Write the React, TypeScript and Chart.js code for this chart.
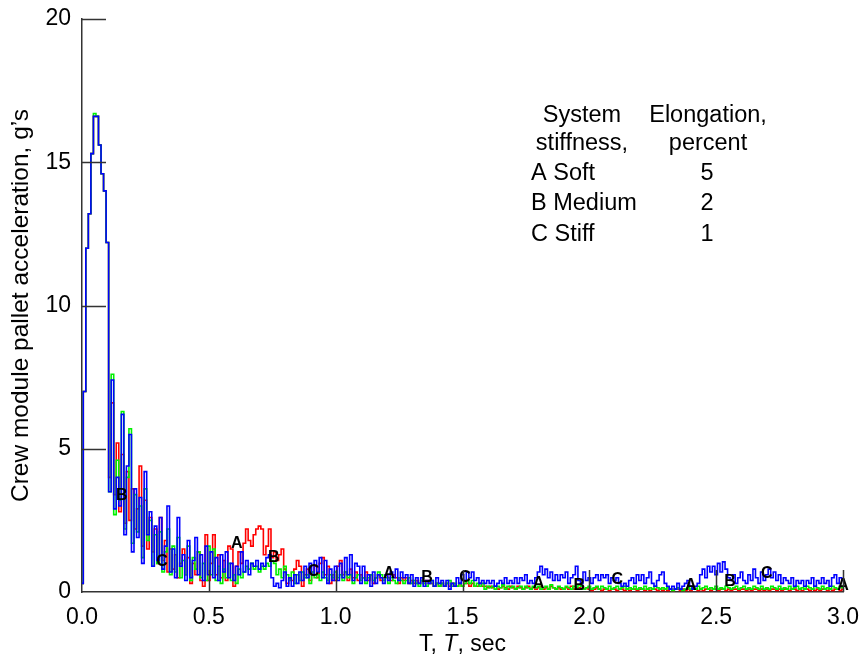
import React, { useEffect, useRef } from "react";
import { Chart, registerables } from "chart.js";

Chart.register(...registerables);

// sample period of the recorded traces (s)
const SAMPLE_STEP = 0.01;

// C — Stiff (blue), one value per 0.01 s from 0.00 to 3.00 s
const ACC_C = [
  0.3, 7.0, 12.0, 13.2, 15.3, 16.6, 16.6, 15.6, 14.6, 14.0,
  12.2, 3.5, 7.4, 2.9, 4.0, 3.0, 6.2, 2.0, 4.4, 5.5,
  1.4, 3.6, 1.9, 3.3, 1.0, 4.2, 2.0, 2.8, 0.9, 2.3,
  1.1, 2.6, 0.8, 1.6, 3.0, 0.7, 1.5, 0.5, 2.6, 0.9,
  1.3, 0.4, 1.8, 0.5, 1.1, 1.9, 0.6, 1.3, 0.4, 1.6,
  0.6, 1.4, 0.5, 1.2, 0.4, 1.3, 0.7, 1.4, 0.5, 1.0,
  0.4, 0.9, 0.6, 1.4, 0.7, 1.1, 0.6, 1.0, 0.9, 1.1,
  0.8, 1.0, 0.9, 1.2, 1.3, 0.5, 0.2, 0.3, 0.15, 0.4,
  0.7, 0.2, 0.5, 0.2, 0.6, 0.3, 0.7, 0.4, 0.9, 0.5,
  1.0, 0.6, 1.1, 0.7, 1.2, 0.5, 1.1, 0.3, 0.8, 0.4,
  0.9, 0.4, 1.0, 0.5, 1.2, 0.6, 1.3, 0.4, 1.0, 0.9,
  0.3, 0.9, 0.4, 0.6, 0.2, 0.7, 0.3, 0.6, 0.5, 0.3,
  0.6, 0.4, 0.7, 0.5, 0.8, 0.4, 0.7, 0.5, 0.6, 0.3,
  0.6, 0.2, 0.5, 0.3, 0.5, 0.2, 0.4, 0.3, 0.4, 0.2,
  0.5, 0.3, 0.4, 0.2, 0.4, 0.1, 0.3, 0.2, 0.5, 0.3,
  0.6, 0.4, 0.7, 0.5, 0.7, 0.4, 0.5, 0.3, 0.4, 0.3,
  0.4, 0.3, 0.4, 0.2, 0.3, 0.4, 0.3, 0.5, 0.3, 0.4,
  0.3, 0.5, 0.3, 0.5, 0.4, 0.6, 0.3, 0.4, 0.3, 0.5,
  0.7, 0.9, 0.6, 0.8, 0.5, 0.7, 0.4, 0.6, 0.4, 0.6,
  0.5, 0.7, 0.3, 0.5, 0.6, 0.9, 0.4, 0.3, 0.7, 0.4,
  0.5, 0.3, 0.5, 0.6, 0.4, 0.6, 0.5, 0.6, 0.3, 0.5,
  0.4, 0.5, 0.3, 0.2, 0.3, 0.2, 0.4, 0.5, 0.3, 0.6,
  0.4, 0.6, 0.3, 0.5, 0.7, 0.3, 0.2, 0.4, 0.6, 0.7,
  0.3, 0.2, 0.1, 0.2, 0.1, 0.3, 0.1, 0.2, 0.3, 0.4,
  0.2, 0.1, 0.2, 0.3, 0.6, 0.8, 0.5, 0.9, 0.7, 0.9,
  0.6, 1.0, 0.7, 1.05, 0.8, 0.5, 0.4, 0.6, 0.3, 0.5,
  0.7, 0.4, 0.3, 0.6, 0.4, 0.8, 0.5, 0.3, 0.7, 0.4,
  0.6, 0.8, 0.5, 0.7, 0.4, 0.6, 0.3, 0.5, 0.4, 0.3,
  0.5, 0.2, 0.4, 0.3, 0.4, 0.2, 0.4, 0.3, 0.5, 0.2,
  0.4, 0.3, 0.5, 0.3, 0.4, 0.2, 0.5, 0.6, 0.3, 0.5,
  0.4,
];

// B — Medium (green)
const ACC_B = [
  0.3, 7.0, 12.0, 13.2, 15.3, 16.7, 16.6, 15.6, 14.6, 14.0,
  12.2, 3.5, 7.6, 2.7, 4.6, 3.2, 6.3, 2.2, 4.0, 5.7,
  1.7, 3.4, 2.1, 3.0, 1.2, 3.6, 1.8, 2.5, 0.9, 2.0,
  1.0, 2.1, 0.7, 1.4, 2.2, 0.6, 1.6, 0.7, 1.9, 0.5,
  1.1, 0.6, 1.6, 0.4, 1.2, 0.8, 1.4, 0.5, 1.0, 0.4,
  1.6, 0.6, 1.5, 0.4, 0.9, 0.3, 0.8, 0.5, 1.0, 0.4,
  0.6, 0.3, 0.8, 0.5, 0.7, 0.9, 0.8, 1.0, 0.8, 0.9,
  0.7, 0.9, 0.8, 1.0, 0.9, 1.1, 1.0, 0.6, 0.8, 0.5,
  0.9, 0.6, 0.4, 0.7, 0.3, 0.6, 0.4, 0.7, 0.5, 0.6,
  0.3, 0.7, 0.5, 0.6, 0.4, 0.7, 0.5, 0.4, 0.6, 0.5,
  0.7, 0.5, 0.6, 0.4, 0.7, 0.5, 0.6, 0.3, 0.5, 0.6,
  0.4, 0.5, 0.3, 0.5, 0.6, 0.4, 0.5, 0.7, 0.6, 0.4,
  0.5, 0.3, 0.5, 0.4, 0.3, 0.5, 0.4, 0.3, 0.4, 0.5,
  0.3, 0.4, 0.3, 0.2, 0.4, 0.3, 0.2, 0.3, 0.4, 0.2,
  0.3, 0.2, 0.3, 0.2, 0.3, 0.4, 0.2, 0.3, 0.2, 0.3,
  0.2, 0.3, 0.4, 0.3, 0.4, 0.2, 0.3, 0.2, 0.3, 0.1,
  0.2, 0.15, 0.2, 0.1, 0.2, 0.15, 0.25, 0.1, 0.2, 0.15,
  0.2, 0.1, 0.15, 0.2, 0.1, 0.2, 0.15, 0.1, 0.2, 0.15,
  0.2, 0.1, 0.15, 0.2, 0.1, 0.25, 0.15, 0.1, 0.2, 0.15,
  0.1, 0.2, 0.15, 0.1, 0.2, 0.15, 0.25, 0.2, 0.1, 0.15,
  0.2, 0.1, 0.15, 0.2, 0.1, 0.2, 0.15, 0.1, 0.2, 0.1,
  0.15, 0.2, 0.1, 0.15, 0.2, 0.1, 0.15, 0.1, 0.2, 0.1,
  0.15, 0.1, 0.2, 0.1, 0.15, 0.1, 0.2, 0.15, 0.1, 0.15,
  0.1, 0.15, 0.1, 0.05, 0.1, 0.15, 0.1, 0.05, 0.1, 0.15,
  0.1, 0.15, 0.1, 0.2, 0.1, 0.15, 0.2, 0.1, 0.15, 0.1,
  0.2, 0.1, 0.15, 0.1, 0.2, 0.15, 0.1, 0.15, 0.2, 0.1,
  0.15, 0.2, 0.1, 0.15, 0.1, 0.2, 0.15, 0.1, 0.2, 0.1,
  0.15, 0.1, 0.2, 0.15, 0.1, 0.2, 0.1, 0.15, 0.1, 0.2,
  0.1, 0.15, 0.2, 0.1, 0.15, 0.1, 0.2, 0.15, 0.1, 0.2,
  0.15, 0.1, 0.2, 0.1, 0.15, 0.1, 0.2, 0.15, 0.1, 0.2,
  0.15,
];

// A — Soft (red)
const ACC_A = [
  0.3, 7.0, 12.0, 13.2, 15.3, 16.6, 16.6, 15.6, 14.6, 14.0,
  12.2, 4.0, 6.6, 3.4, 5.2, 2.8, 4.8, 2.4, 4.2, 2.5,
  3.6, 2.2, 2.9, 4.4, 1.6, 3.2, 1.5, 2.6, 1.4, 2.2,
  1.0, 2.6, 1.1, 1.8, 0.7, 1.5, 0.8, 1.3, 0.5, 1.0,
  1.5, 0.6, 1.2, 0.3, 1.0, 0.6, 1.4, 0.4, 0.2, 2.0,
  0.4, 1.0, 2.0, 0.6, 1.3, 0.5, 1.1, 0.4, 1.6, 1.5,
  0.2, 0.9, 1.4, 1.0, 1.7, 2.2, 1.8, 1.6, 2.0, 2.2,
  2.3, 2.2, 1.3, 1.6, 2.2, 1.2, 1.4, 1.1, 1.3, 1.5,
  0.8, 0.3, 0.5, 0.4, 0.8, 1.1, 0.9, 0.2, 0.6, 0.8,
  0.4, 0.7, 0.9, 0.5, 1.0, 1.2, 0.6, 0.9, 0.3, 0.6,
  0.4, 0.9, 1.1, 0.6, 0.7, 0.4, 0.8, 0.5, 0.7, 0.4,
  0.6, 0.5, 0.7, 0.4, 0.6, 0.3, 0.5, 0.6, 0.4, 0.5,
  0.6, 0.5, 0.4, 0.6, 0.5, 0.3, 0.5, 0.4, 0.5, 0.3,
  0.4, 0.3, 0.4, 0.3, 0.4, 0.3, 0.4, 0.3, 0.3, 0.2,
  0.3, 0.2, 0.3, 0.2, 0.3, 0.2, 0.3, 0.2, 0.2, 0.3,
  0.2, 0.3, 0.3, 0.2, 0.3, 0.2, 0.2, 0.3, 0.2, 0.2,
  0.15, 0.2, 0.15, 0.2, 0.1, 0.15, 0.2, 0.15, 0.1, 0.2,
  0.15, 0.1, 0.2, 0.15, 0.1, 0.15, 0.2, 0.1, 0.15, 0.1,
  0.15, 0.2, 0.1, 0.15, 0.1, 0.2, 0.15, 0.1, 0.15, 0.1,
  0.1, 0.15, 0.1, 0.2, 0.1, 0.1, 0.15, 0.1, 0.1, 0.15,
  0.1, 0.05, 0.1, 0.15, 0.1, 0.05, 0.1, 0.1, 0.05, 0.1,
  0.1, 0.05, 0.1, 0.1, 0.05, 0.1, 0.05, 0.1, 0.1, 0.05,
  0.1, 0.1, 0.05, 0.1, 0.05, 0.1, 0.1, 0.05, 0.1, 0.05,
  0.1, 0.05, 0.1, 0.05, 0.1, 0.1, 0.05, 0.1, 0.05, 0.1,
  0.05, 0.1, 0.1, 0.05, 0.1, 0.05, 0.1, 0.1, 0.05, 0.1,
  0.1, 0.05, 0.1, 0.1, 0.05, 0.1, 0.05, 0.1, 0.1, 0.05,
  0.1, 0.1, 0.05, 0.1, 0.05, 0.1, 0.1, 0.05, 0.1, 0.05,
  0.1, 0.05, 0.1, 0.1, 0.05, 0.1, 0.05, 0.1, 0.1, 0.05,
  0.1, 0.1, 0.05, 0.1, 0.05, 0.1, 0.1, 0.05, 0.1, 0.05,
  0.1, 0.05, 0.1, 0.1, 0.05, 0.1, 0.05, 0.1, 0.1, 0.05,
  0.1,
];

// time stamps of the samples (s)
const TIME = ACC_C.map((_, i) => Number((i * SAMPLE_STEP).toFixed(2)));

// letter markers placed along each trace
const MARK_A_T = [0.61, 1.21, 1.8, 2.4, 3.0];
const MARK_A_V = [1.68, 0.63, 0.28, 0.24, 0.24];
const MARK_B_T = [0.157, 0.756, 1.36, 1.96, 2.555];
const MARK_B_V = [3.35, 1.19, 0.49, 0.24, 0.35];
const MARK_C_T = [0.315, 0.913, 1.51, 2.11, 2.7];
const MARK_C_V = [1.05, 0.7, 0.52, 0.42, 0.63];

const X_TICKS = [0, 0.5, 1.0, 1.5, 2.0, 2.5, 3.0];
const Y_TICKS = [0, 5, 10, 15, 20];

const Y_TITLE = "Crew module pallet acceleration, g\u2019s";
const X_TITLE_PARTS = ["T, ", "T", ", sec"];

const LEGEND_HEAD_LEFT = ["System", "stiffness,"];
const LEGEND_HEAD_RIGHT = ["Elongation,", "percent"];
const LEGEND_NAMES = ["A Soft", "B Medium", "C Stiff"];
const LEGEND_ELONG = ["5", "2", "1"];

const FONT = '"Liberation Sans", Arial, Helvetica, sans-serif';

const overlayPlugin = {
  id: "overlay",
  afterDatasetsDraw(chart: any) {
    const { ctx } = chart;
    const xs = chart.scales.x;
    const ys = chart.scales.y;
    ctx.save();
    ctx.font = `bold 16px ${FONT}`;
    ctx.fillStyle = "#000";
    ctx.textAlign = "center";
    ctx.textBaseline = "middle";
    const groups: [string, number[], number[]][] = [
      ["A", MARK_A_T, MARK_A_V],
      ["B", MARK_B_T, MARK_B_V],
      ["C", MARK_C_T, MARK_C_V],
    ];
    for (const [letter, ts, vs] of groups) {
      ts.forEach((t, i) => {
        ctx.fillText(letter, xs.getPixelForValue(t), ys.getPixelForValue(vs[i]));
      });
    }
    ctx.restore();
  },
  afterDraw(chart: any) {
    const { ctx, chartArea } = chart;
    const xs = chart.scales.x;
    const ys = chart.scales.y;
    ctx.save();
    // inward tick marks
    ctx.strokeStyle = "#333";
    ctx.lineWidth = 1.5;
    ctx.beginPath();
    Y_TICKS.forEach((v) => {
      if (v === 0) return;
      const py = Math.round(ys.getPixelForValue(v)) + 0.5;
      ctx.moveTo(chartArea.left, py);
      ctx.lineTo(chartArea.left + 24, py);
    });
    X_TICKS.forEach((v) => {
      if (v === 0) return;
      const px = Math.round(xs.getPixelForValue(v)) + 0.5;
      ctx.moveTo(px, chartArea.bottom);
      ctx.lineTo(px, chartArea.bottom - 22);
    });
    ctx.stroke();

    // x-axis title with italic T
    ctx.fillStyle = "#000";
    ctx.textBaseline = "alphabetic";
    ctx.textAlign = "left";
    const fonts = [`23px ${FONT}`, `italic 23px ${FONT}`, `23px ${FONT}`];
    let total = 0;
    const widths = X_TITLE_PARTS.map((s, i) => {
      ctx.font = fonts[i];
      const w = ctx.measureText(s).width;
      total += w;
      return w;
    });
    let cx = (chartArea.left + chartArea.right) / 2 - total / 2;
    const baseY = chartArea.bottom + 59;
    X_TITLE_PARTS.forEach((s, i) => {
      ctx.font = fonts[i];
      ctx.fillText(s, cx, baseY);
      cx += widths[i];
    });

    // stiffness / elongation table
    ctx.font = `23.5px ${FONT}`;
    const colL = 582;
    const colR = 708;
    const rowL = 531;
    const headY = [122, 150];
    const rowY = [180, 210, 241];
    ctx.textAlign = "center";
    LEGEND_HEAD_LEFT.forEach((s, i) => ctx.fillText(s, colL, headY[i]));
    LEGEND_HEAD_RIGHT.forEach((s, i) => ctx.fillText(s, colR, headY[i]));
    LEGEND_ELONG.forEach((s, i) => ctx.fillText(s, colR - 1, rowY[i]));
    ctx.textAlign = "left";
    LEGEND_NAMES.forEach((s, i) => ctx.fillText(s, rowL, rowY[i]));
    ctx.restore();
  },
};

export default function App() {
  const canvasRef = useRef<HTMLCanvasElement | null>(null);

  useEffect(() => {
    if (!canvasRef.current) return;
    const mk = (vals: number[]) => vals.map((v, i) => ({ x: TIME[i], y: v }));
    const chart = new Chart(canvasRef.current, {
      type: "line",
      data: {
        datasets: [
          {
            label: "C Stiff",
            data: mk(ACC_C),
            borderColor: "#0000ff",
            borderWidth: 1.6,
            pointRadius: 0,
            stepped: "middle",
            fill: false,
          },
          {
            label: "B Medium",
            data: mk(ACC_B),
            borderColor: "#00f000",
            borderWidth: 1.6,
            pointRadius: 0,
            stepped: "middle",
            fill: false,
          },
          {
            label: "A Soft",
            data: mk(ACC_A),
            borderColor: "#ff0000",
            borderWidth: 1.6,
            pointRadius: 0,
            stepped: "middle",
            fill: false,
          },
        ],
      },
      options: {
        responsive: false,
        animation: false,
        events: [],
        layout: { padding: { top: 19, right: 17, left: 0, bottom: 0 } },
        plugins: { legend: { display: false }, tooltip: { enabled: false } },
        scales: {
          x: {
            type: "linear",
            min: 0,
            max: 3,
            afterFit: (s: any) => {
              s.height = 68;
              s.paddingLeft = 0;
              s.paddingRight = 0;
            },
            afterBuildTicks: (s: any) => {
              s.ticks = X_TICKS.map((v) => ({ value: v }));
            },
            grid: { display: false, drawTicks: false },
            border: { display: true, color: "#333", width: 1.5 },
            ticks: {
              padding: 12,
              color: "#000",
              font: { family: FONT, size: 23 },
              maxRotation: 0,
              callback: (v: any) => Number(v).toFixed(1),
            },
          },
          y: {
            type: "linear",
            min: 0,
            max: 20,
            afterFit: (s: any) => {
              s.width = 82;
              s.paddingTop = 0;
              s.paddingBottom = 0;
            },
            afterBuildTicks: (s: any) => {
              s.ticks = Y_TICKS.map((v) => ({ value: v }));
            },
            grid: { display: false, drawTicks: false },
            border: { display: true, color: "#333", width: 1.5 },
            ticks: {
              padding: 11,
              color: "#000",
              font: { family: FONT, size: 23 },
              callback: (v: any) => String(v),
            },
            title: {
              display: true,
              text: Y_TITLE,
              color: "#000",
              font: { family: FONT, size: 24.5 },
              padding: { top: 7, bottom: 0 },
            },
          },
        },
      },
      plugins: [overlayPlugin],
    });
    return () => chart.destroy();
  }, []);

  return (
    <div
      style={{
        position: "fixed",
        left: 0,
        top: 0,
        width: 860,
        height: 660,
        background: "#fff",
      }}
    >
      <canvas ref={canvasRef} width={860} height={660} />
    </div>
  );
}
